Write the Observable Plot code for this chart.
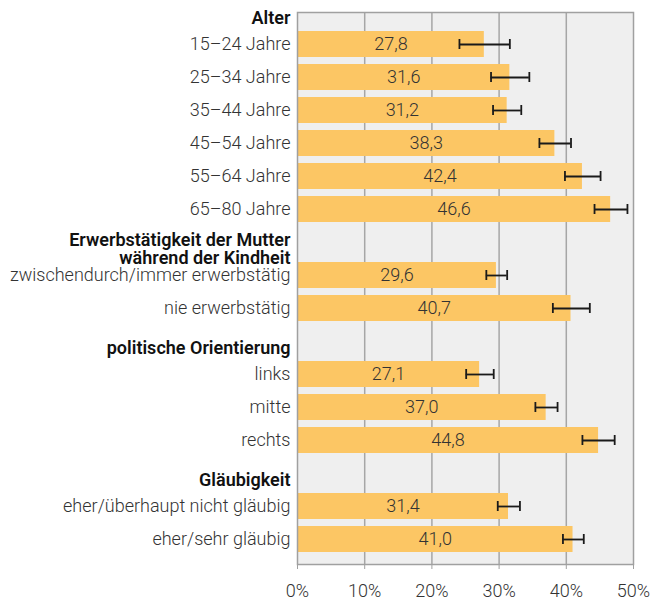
<!DOCTYPE html>
<html><head><meta charset="utf-8">
<script src="https://cdn.jsdelivr.net/npm/d3@7"></script>
<script src="https://cdn.jsdelivr.net/npm/@observablehq/plot@0.6"></script>
<style>body{margin:0;background:#fff;}</style>
</head><body><div id="chart"></div>
<script>
const groups = ["Alter", "Erwerbstätigkeit der Mutter\nwährend der Kindheit", "politische Orientierung", "Gläubigkeit"];
const categories = ["15–24 Jahre", "25–34 Jahre", "35–44 Jahre", "45–54 Jahre", "55–64 Jahre", "65–80 Jahre",
  "zwischendurch/immer erwerbstätig", "nie erwerbstätig",
  "links", "mitte", "rechts",
  "eher/überhaupt nicht gläubig", "eher/sehr gläubig"];
const groupIndex = [0,0,0,0,0,0,1,1,2,2,2,3,3];
const values = [27.8, 31.6, 31.2, 38.3, 42.4, 46.6, 29.6, 40.7, 27.1, 37.0, 44.8, 31.4, 41.0];
const lower  = [24.1, 28.8, 29.1, 36.0, 39.8, 44.2, 28.1, 38.0, 25.1, 35.4, 42.4, 29.8, 39.5];
const upper  = [31.6, 34.5, 33.3, 40.7, 45.1, 49.1, 31.2, 43.5, 29.2, 38.7, 47.2, 33.1, 42.6];
const xTicks = [0, 10, 20, 30, 40, 50];

const domain = [];
groups.forEach((g, gi) => {
  domain.push(g);
  categories.forEach((c, i) => { if (groupIndex[i] === gi) domain.push(c); });
});
const data = categories.map((c, i) => ({category: c, value: values[i], lo: lower[i], hi: upper[i]}));
const fmt = v => v.toFixed(1).replace(".", ",");

const chart = Plot.plot({
  width: 650, height: 601,
  marginLeft: 297, marginRight: 17, marginTop: 12, marginBottom: 37,
  style: {fontFamily: "Roboto, sans-serif", fontSize: "18px", color: "#333", background: "#fff"},
  x: {domain: [0, 50]},
  y: {domain, paddingInner: 0.2, paddingOuter: 0.1, insetTop: -19, insetBottom: 6},
  marks: [
    Plot.frame({fill: "#efefef"}),
    Plot.gridX({ticks: xTicks.slice(1, -1), stroke: "#a6a6a6", strokeOpacity: 1, strokeWidth: 1.5}),
    Plot.barX(data, {x: "value", y: "category", fill: "#fcc664"}),
    Plot.text(data, {x: d => d.value / 2, y: "category", text: d => fmt(d.value), fill: "#333", fontSize: 18, fontWeight: 300}),
    Plot.ruleY(data, {x1: "lo", x2: "hi", y: "category", stroke: "#1a1a1a", strokeWidth: 1.8}),
    Plot.tickX(data, {x: "lo", y: "category", insetTop: 8, insetBottom: 8, stroke: "#1a1a1a", strokeWidth: 1.8}),
    Plot.tickX(data, {x: "hi", y: "category", insetTop: 8, insetBottom: 8, stroke: "#1a1a1a", strokeWidth: 1.8}),
    Plot.frame({stroke: "#a0a0a0", strokeWidth: 1.5}),
    Plot.axisX({ticks: xTicks, tickFormat: d => d + "%", tickSize: 5, tickPadding: 15, stroke: "#a0a0a0", fill: "#333", label: null, fontSize: 18, fontWeight: 300}),
    Plot.axisY({ticks: categories, tickSize: 0, tickPadding: 7, label: null, fill: "#333", fontSize: 18, fontWeight: 300}),
    Plot.text(groups, {y: d => d, frameAnchor: "left", textAnchor: "end", dx: -7, dy: 6.5, fontWeight: 600, fill: "#111", fontSize: 18, lineHeight: 1.0})
  ]
});
document.getElementById("chart").appendChild(chart);
</script>
</body></html>
